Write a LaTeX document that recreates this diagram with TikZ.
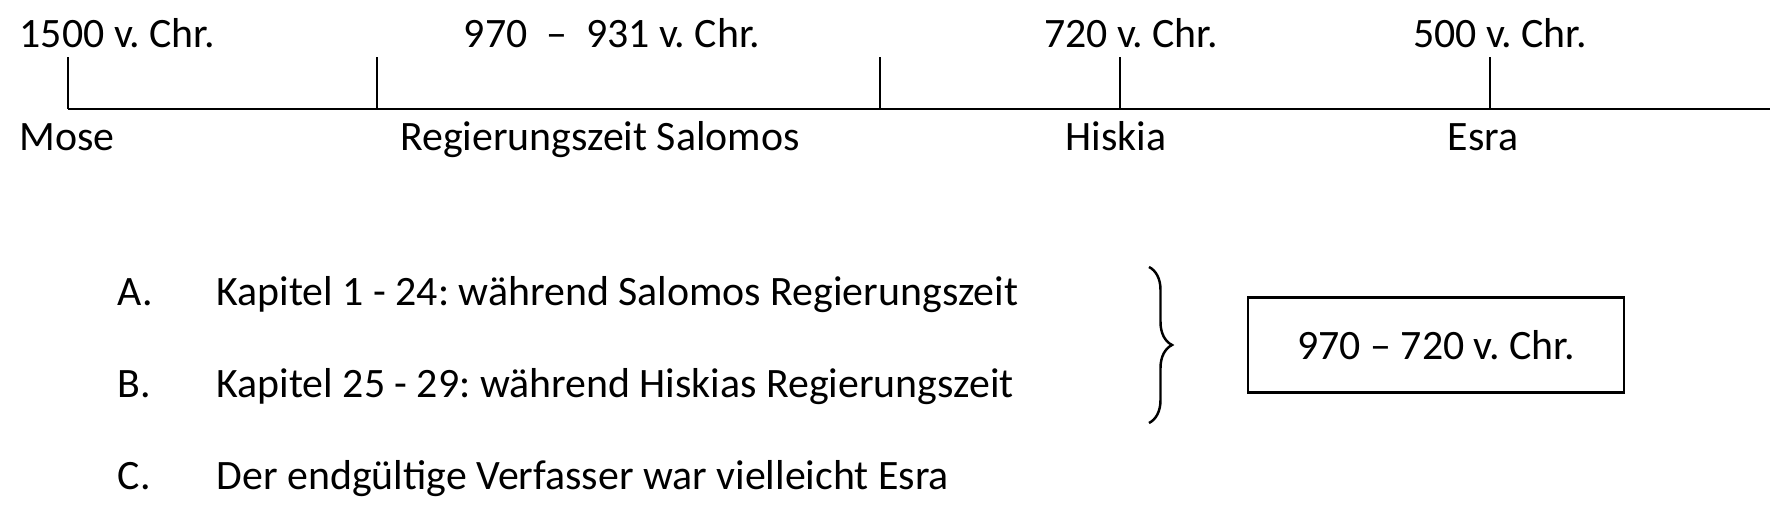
\documentclass[tikz,border=0pt]{standalone}
\usepackage{fontspec}
\setmainfont{Carlito}
\usetikzlibrary{decorations.pathreplacing}
\frenchspacing

\begin{document}
\begin{tikzpicture}[x=0.01cm,y=-0.01cm,
	every node/.style={font=\fontsize{11.9}{14}\selectfont,inner sep=0pt},
	heavy/.style={line width=0.8pt},
	thin/.style={line width=0.4pt}]
	\useasboundingbox (0,0) rectangle (1784,516);
	% Zeitleiste
	\coordinate (t0) at (68,109);
	\coordinate (t1) at (377,109);
	\coordinate (t2) at (880,109);
	\coordinate (t3) at (1120,109);
	\coordinate (t4) at (1490,109);
	\coordinate (te) at (1770,109);
	\coordinate (u0) at (68,57);
	\coordinate (u1) at (377,57);
	\coordinate (u2) at (880,57);
	\coordinate (u3) at (1120,57);
	\coordinate (u4) at (1490,57);
	\draw[heavy] (t0) -- (te);
	\draw[heavy] (t0) -- (u0) (t1) -- (u1) (t2) -- (u2);
	\draw[thin] (t3) -- (u3) (t4) -- (u4);
	\node[anchor=base west] (d1500) at (19,48) {1500 v. Chr.};
	\node[anchor=base] (d970) at (612,48) {970\ \ –\ \ 931 v. Chr.};
	\node[anchor=base] (d720) at (1131,48) {720 v. Chr.};
	\node[anchor=base] (d500) at (1500,48) {500 v. Chr.};
	\node[anchor=base west] (mose) at (19,151) {Mose};
	\node[anchor=base] (salomo) at (600,151) {Regierungszeit Salomos};
	\node[anchor=base] (hiskia) at (1116,151) {Hiskia};
	\node[anchor=base] (esra) at (1483,151) {Esra};
	% Kapitel
	\node[anchor=base west] (la) at (117,306) {A.};
	\node[anchor=base west] (ka) at (216,306) {Kapitel 1 - 24: während Salomos Regierungszeit};
	\node[anchor=base west] (lb) at (117,398) {B.};
	\node[anchor=base west] (kb) at (216,398) {Kapitel 25 - 29: während Hiskias Regierungszeit};
	\node[anchor=base west] (lc) at (117,490) {C.};
	\node[anchor=base west] (kc) at (216,490) {Der endgültige Verfasser war vielleicht Esra};
	\coordinate (b1) at (1149,267);
	\coordinate (b2) at (1149,423);
	\draw[line width=0.7pt,decorate,decoration={brace,amplitude=0.23cm}] (b1) -- (b2);
	\node[draw,line width=0.7pt,minimum width=3.76cm,minimum height=0.95cm] (zeit) at (1436,345) {970 – 720 v. Chr.};
\end{tikzpicture}
\end{document}
